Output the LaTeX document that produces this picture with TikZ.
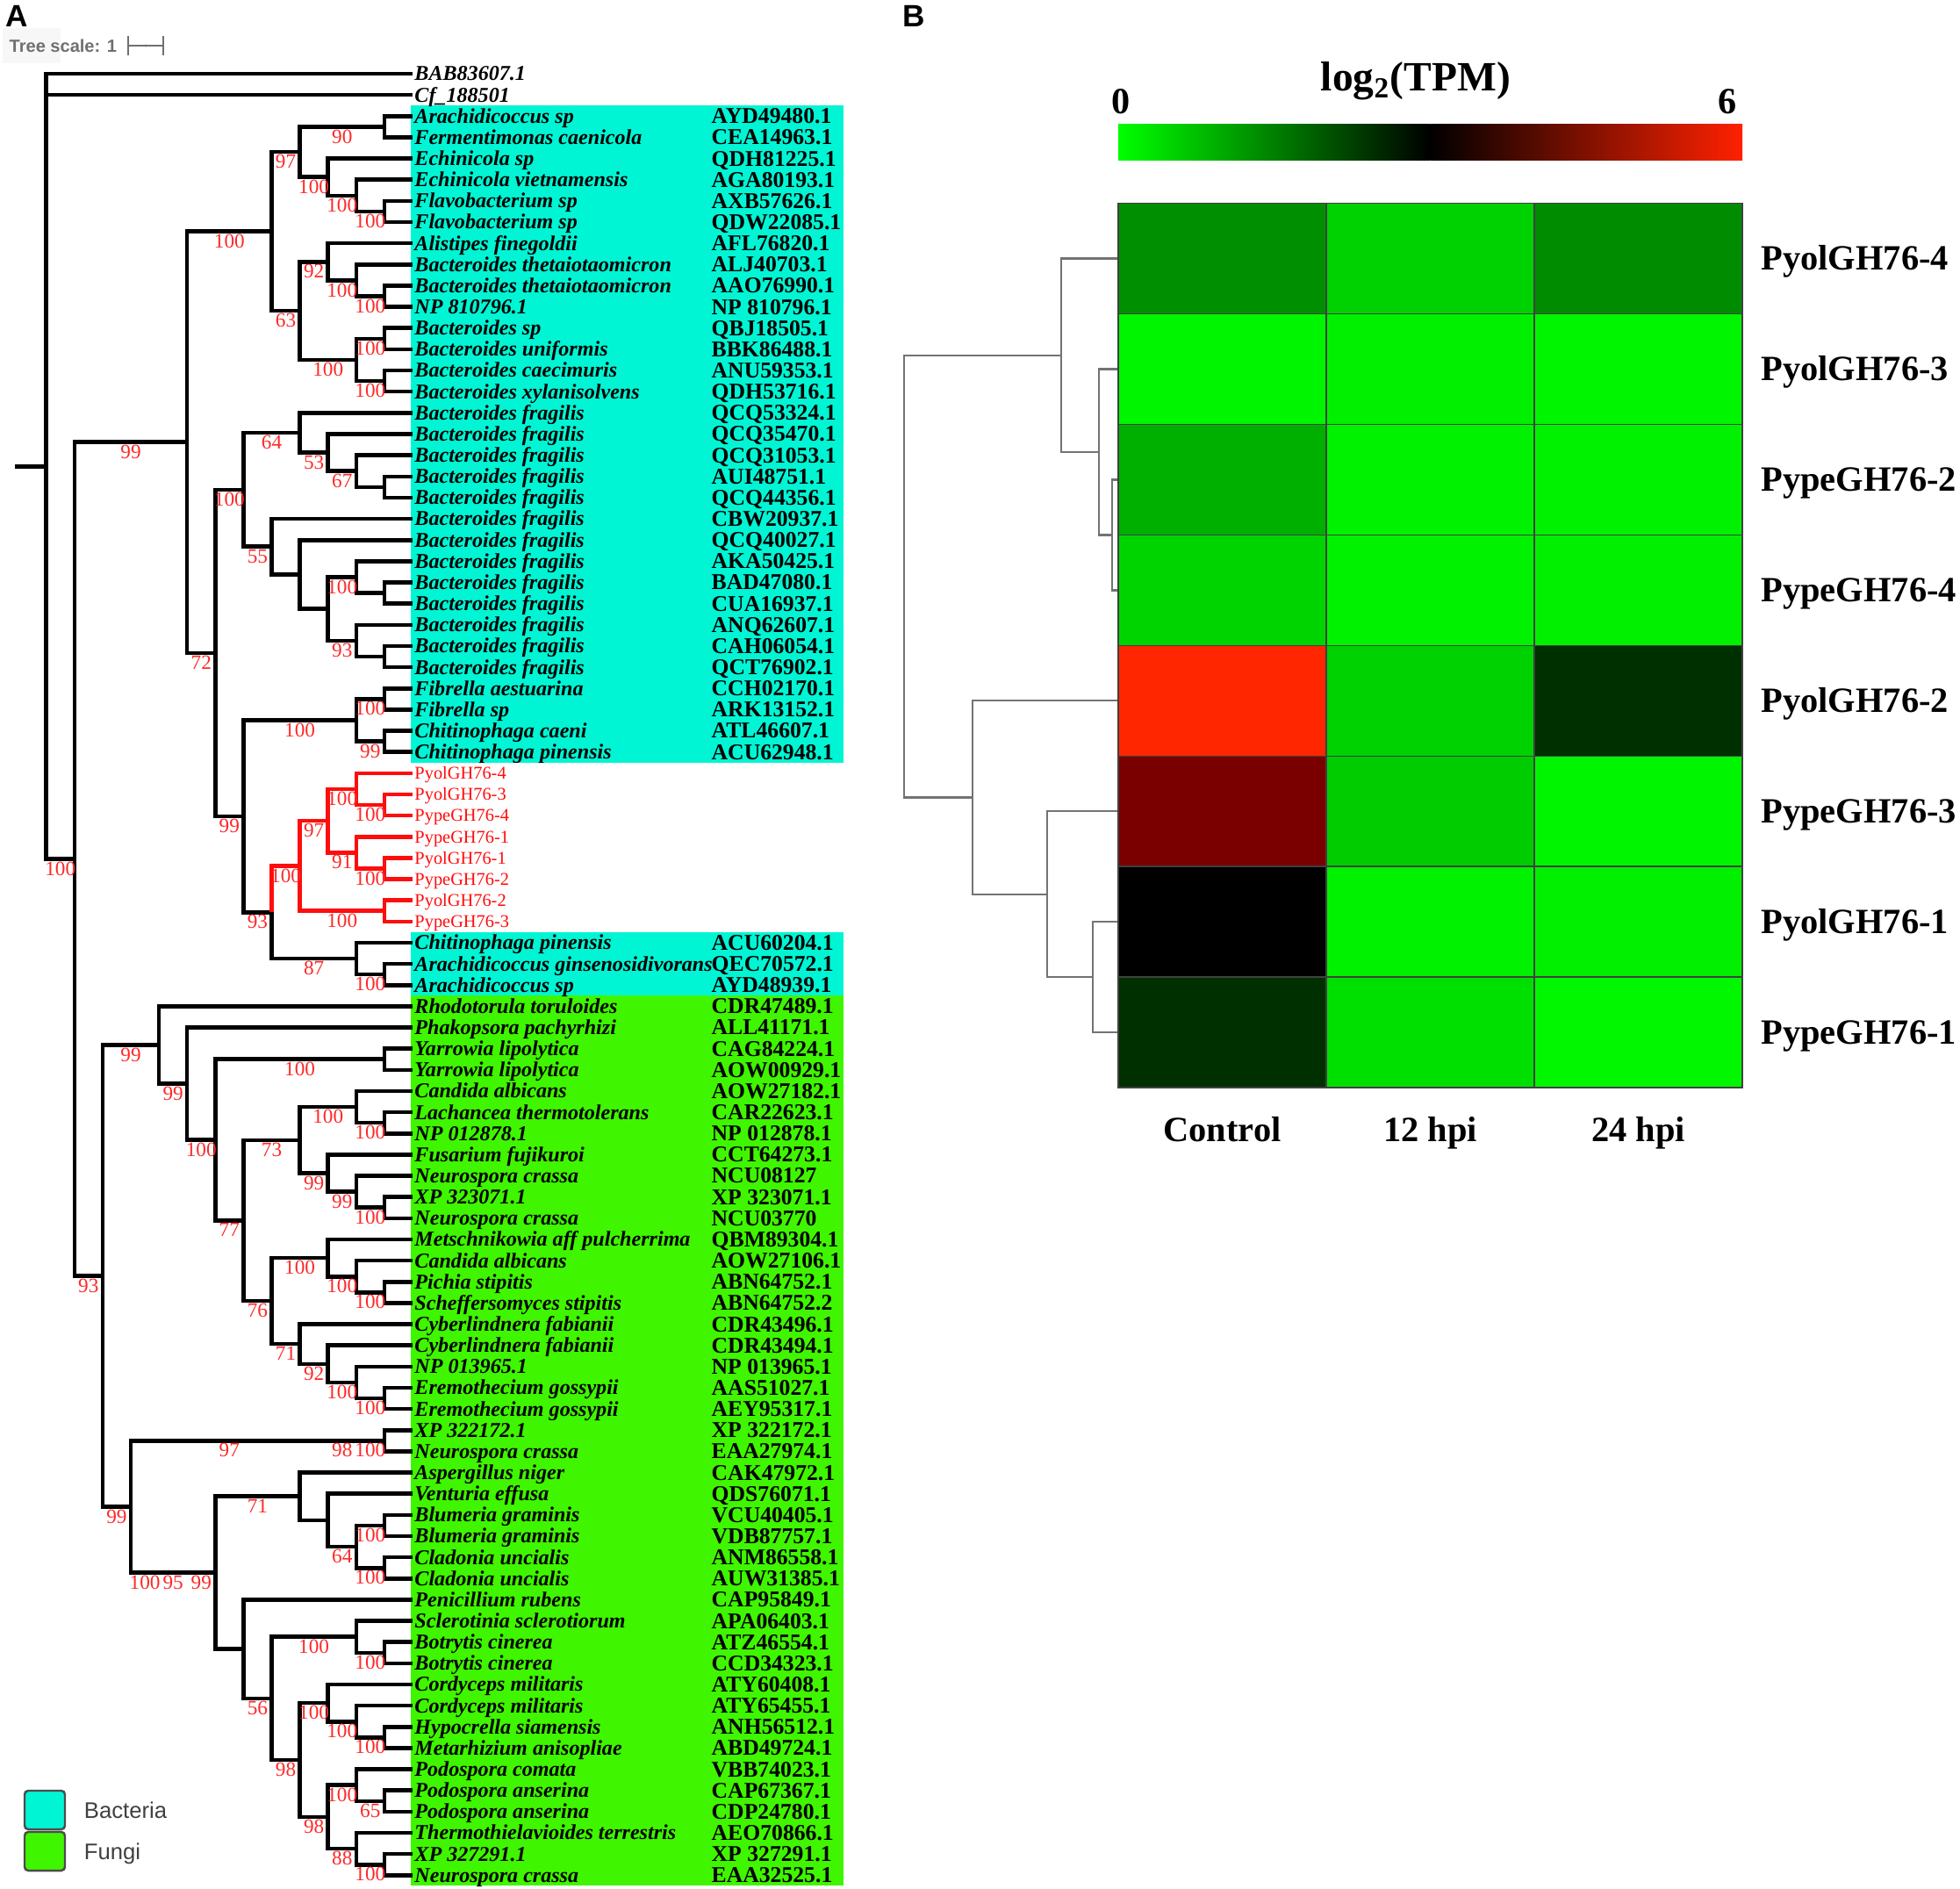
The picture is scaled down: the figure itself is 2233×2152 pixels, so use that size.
\documentclass[tikz,border=0pt]{standalone}
\usepackage{fontspec}
\setmainfont{Liberation Serif}
\newfontfamily\sanslabel{Liberation Sans}
\usetikzlibrary{calc,positioning}

\definecolor{bactcyan}{RGB}{0,245,212}
\definecolor{fungigreen}{RGB}{64,245,0}
\definecolor{bootred}{RGB}{255,40,40}
\definecolor{ghred}{RGB}{255,12,12}
\definecolor{scalegray}{RGB}{112,112,112}

\newcommand\leaffont{\fontsize{6.85pt}{7pt}\selectfont\bfseries\itshape}
\newcommand\accfont{\fontsize{7.3pt}{8pt}\selectfont\bfseries}
\newcommand\genefont{\fontsize{5.8pt}{6pt}\selectfont}
\newcommand\bootfont{\fontsize{6.6pt}{7pt}\selectfont}
\newcommand\legfont{\sanslabel\fontsize{7.3pt}{8pt}\selectfont}
\newcommand\treescalefont{\sanslabel\bfseries\fontsize{5.7pt}{6pt}\selectfont}
\newcommand\panelfont{\sanslabel\bfseries\fontsize{10pt}{12pt}\selectfont}
\newcommand\rowfont{\bfseries\fontsize{11.5pt}{13pt}\selectfont}
\newcommand\cbarfont{\bfseries\fontsize{12pt}{14pt}\selectfont}
\newcommand\cbtitlefont{\bfseries\fontsize{13.5pt}{15pt}\selectfont}

% tree edges: parent/child/bootstrap
\newcommand\blackedges{root/t1/, root/t2/, root/Nin/100,
  Nin/X/99, Nin/FF/93, X/Btop/100, X/Y/72,
  Btop/A1/97, Btop/A2/63,
  A1/G1/90, A1/E/100, G1/t3/, G1/t4/,
  E/t5/, E/F/100, F/t6/, F/G/100, G/t7/, G/t8/,
  A2/H/92, A2/I/100, H/t9/, H/J/100, J/t10/, J/K/100, K/t11/, K/t12/,
  I/L/100, I/M/100, L/t13/, L/t14/, M/t15/, M/t16/,
  Y/Z1/100, Y/Z2/99,
  Z1/P/64, Z1/Q/55, P/t17/, P/R/53, R/t18/, R/S/67, S/t19/, S/T/, T/t20/, T/t21/,
  Q/t22/, Q/U/, U/t23/, U/V/, V/W/100, V/X2/93, W/t24/, W/W2/, W2/t25/, W2/t26/,
  X2/t27/, X2/X2a/, X2a/t28/, X2a/t29/,
  Z2/AA/100, Z2/BB/93, AA/AAa/100, AA/AAb/99, AAa/t30/, AAa/t31/, AAb/t32/, AAb/t33/,
  BB/EE/87, EE/t42/, EE/EEa/100, EEa/t43/, EEa/t44/,
  FF/GG/99, FF/HH/99,
  GG/t45/, GG/II/99, II/t46/, II/JJ/100, JJ/KK/100, JJ/LL/77, KK/t47/, KK/t48/,
  LL/MM/73, LL/NN/76,
  MM/OO/100, MM/PP/99, OO/t49/, OO/OOa/100, OOa/t50/, OOa/t51/,
  PP/t52/, PP/QQ/99, QQ/t53/, QQ/QQa/100, QQa/t54/, QQa/t55/,
  NN/RR/100, NN/SS/71, RR/t56/, RR/TT/100, TT/t57/, TT/TTa/100, TTa/t58/, TTa/t59/,
  SS/t60/, SS/UU/92, UU/t61/, UU/VV/100, VV/t62/, VV/VVa/100, VVa/t63/, VVa/t64/,
  HH/U1/97, U1/U2/98, U2/P65/100, P65/t65/, P65/t66/,
  HH/V1/100, V1/V2/95, V2/WW/99,
  WW/XX/71, WW/YY/,
  XX/t67/, XX/ZZ/, ZZ/t68/, ZZ/A3/64, A3/A3a/100, A3/A3b/100,
  A3a/t69/, A3a/t70/, A3b/t71/, A3b/t72/,
  YY/t73/, YY/B3/56, B3/C3/100, B3/D3/98, C3/t74/, C3/C3a/100, C3a/t75/, C3a/t76/,
  D3/E3/100, D3/F3/98, E3/t77/, E3/G3/100, G3/t78/, G3/G3a/100, G3a/t79/, G3a/t80/,
  F3/H3/100, F3/I3/88, H3/t81/, H3/H3a/65, H3a/t82/, H3a/t83/,
  I3/t84/, I3/I3a/100, I3a/t85/, I3a/t86/}
\newcommand\rededges{BB/r7/100, r7/r5/97, r7/r6/100, r5/r2/100, r5/r4/91,
  r2/t34/, r2/r1/100, r1/t35/, r1/t36/, r4/t37/, r4/r3/100, r3/t38/, r3/t39/,
  r6/t40/, r6/t41/}

\begin{document}
\begin{tikzpicture}[
	x=0.01cm, y=-0.01cm,
	every node/.style={inner sep=0pt},
	branch/.style={line width=1.3pt},
	boot/.style={
		anchor=north,
		yshift=-0.7pt,
		text=bootred,
		font=\bootfont,
	},
	leaf/.style={
		anchor=west,
		xshift=0.5pt,
		text height=4.5pt,
		text depth=0pt,
		font=\leaffont,
	},
	acc/.style={
		anchor=west,
		text height=4.8pt,
		text depth=0pt,
		font=\accfont,
	},
	gene/.style={
		anchor=west,
		xshift=0.5pt,
		text height=3.85pt,
		text depth=0pt,
		text=ghred,
		font=\genefont,
	},
	legbox/.style={
		draw=black!70,
		line width=0.7pt,
		rounded corners=1.2pt,
		minimum width=0.46cm,
		minimum height=0.44cm,
	},
	legtext/.style={
		text height=5.3pt,
		text depth=0pt,
		text=black!75,
		font=\legfont,
	},
	cell/.style={
		draw=black!75,
		line width=0.4pt,
		minimum width=2.37cm,
		minimum height=1.2585cm,
	},
	rowlab/.style={
		text height=7.6pt,
		text depth=0pt,
		font=\rowfont,
	},
	collab/.style={font=\rowfont},
	dendro/.style={draw=black!55, line width=0.65pt},
	panel/.style={font=\panelfont},
]
	\useasboundingbox (0,0) rectangle (2233,2152);

	% ---- panel A ----
	\node (labA) [panel] at (19,18) {A};
	\fill[black!3] (3,32) rectangle (69,72);
	\node (tscale) [anchor=west, text=scalegray, font=\treescalefont] at (10,52)
		{Tree scale: 1};
	\coordinate (sbarL) at (145,52);
	\coordinate (sbarR) at (187,52);
	\draw[scalegray, line width=0.5pt, |-|] (sbarL) -- (sbarR);
	\fill[scalegray] ($(sbarL)!.5!(sbarR)$) circle (0.45pt);

	\begin{scope}[yshift=-0.5987cm, y=-0.2413cm]
		% clade shading
		\fill[bactcyan] (468,2.5) rectangle (961,33.5);
		\fill[bactcyan] (468,41.5) rectangle (961,44.5);
		\fill[fungigreen] (468,44.5) rectangle (961,86.5);

		% inner nodes: name/height/row
		\foreach \n/\h/\i in {root/13/19.5256, Nin/12/38.0513, X/8/18.3828, FF/11/57.7197,
			Btop/5/8.4375, Y/7/28.328125, A1/4/4.6875, A2/4/12.1875,
			G1/1/3.5, E/3/5.875, F/2/6.75, G/1/7.5,
			H/3/9.875, J/2/10.75, K/1/11.5, I/2/14.5, L/1/13.5, M/1/15.5,
			Z1/6/20.625, Z2/6/36.03125,
			P/4/17.9375, R/3/18.875, S/2/19.75, T/1/20.5,
			Q/5/23.3125, U/4/24.625, V/3/26.25, W/2/24.75, W2/1/25.5, X2/2/27.75, X2a/1/28.5,
			AA/2/31.5, AAa/1/30.5, AAb/1/32.5,
			BB/5/40.5625, EE/2/42.75, EEa/1/43.5,
			r7/4/38.375, r5/3/36.25, r2/2/34.75, r1/1/35.5, r4/2/37.75, r3/1/38.5, r6/1/40.5,
			GG/9/46.8262, II/8/48.6523, JJ/7/51.3047, KK/1/47.5, LL/6/55.1094,
			MM/4/51.3125, OO/2/49.75, OOa/1/50.5, PP/3/52.875, QQ/2/53.75, QQa/1/54.5,
			NN/5/58.9063, RR/3/56.875, TT/2/57.75, TTa/1/58.5,
			SS/4/60.9375, UU/3/61.875, VV/2/62.75, VVa/1/63.5,
			HH/10/68.6133, U1/3/65.5, U2/2/65.5, P65/1/65.5,
			V1/9/71.7266, V2/8/71.7266, WW/7/71.7266,
			XX/4/68.125, ZZ/3/69.25, A3/2/70.5, A3a/1/69.5, A3b/1/71.5,
			YY/6/75.3281, B3/5/77.6563, C3/2/74.75, C3a/1/75.5,
			D3/4/80.5625, E3/3/77.875, G3/2/78.75, G3a/1/79.5,
			F3/3/83.25, H3/2/81.75, H3a/1/82.5, I3/2/84.75, I3a/1/85.5}
			\coordinate (\n) at ({470-32.1*\h},\i);
		\coordinate (stub) at (17,19.5256);
		\foreach \i in {1,...,86}
			\coordinate (t\i) at (470,\i);

		% leaves
		\node (n1) [leaf] at (t1) {BAB83607.1};
		\node (n2) [leaf] at (t2) {Cf\_188501};
		\foreach \i/\nm/\acc in {3/Arachidicoccus sp/AYD49480.1,
			4/Fermentimonas caenicola/CEA14963.1,
			5/Echinicola sp/QDH81225.1,
			6/Echinicola vietnamensis/AGA80193.1,
			7/Flavobacterium sp/AXB57626.1,
			8/Flavobacterium sp/QDW22085.1,
			9/Alistipes finegoldii/AFL76820.1,
			10/Bacteroides thetaiotaomicron/ALJ40703.1,
			11/Bacteroides thetaiotaomicron/AAO76990.1,
			12/NP 810796.1/NP 810796.1,
			13/Bacteroides sp/QBJ18505.1,
			14/Bacteroides uniformis/BBK86488.1,
			15/Bacteroides caecimuris/ANU59353.1,
			16/Bacteroides xylanisolvens/QDH53716.1,
			17/Bacteroides fragilis/QCQ53324.1,
			18/Bacteroides fragilis/QCQ35470.1,
			19/Bacteroides fragilis/QCQ31053.1,
			20/Bacteroides fragilis/AUI48751.1,
			21/Bacteroides fragilis/QCQ44356.1,
			22/Bacteroides fragilis/CBW20937.1,
			23/Bacteroides fragilis/QCQ40027.1,
			24/Bacteroides fragilis/AKA50425.1,
			25/Bacteroides fragilis/BAD47080.1,
			26/Bacteroides fragilis/CUA16937.1,
			27/Bacteroides fragilis/ANQ62607.1,
			28/Bacteroides fragilis/CAH06054.1,
			29/Bacteroides fragilis/QCT76902.1,
			30/Fibrella aestuarina/CCH02170.1,
			31/Fibrella sp/ARK13152.1,
			32/Chitinophaga caeni/ATL46607.1,
			33/Chitinophaga pinensis/ACU62948.1,
			42/Chitinophaga pinensis/ACU60204.1,
			43/Arachidicoccus ginsenosidivorans/QEC70572.1,
			44/Arachidicoccus sp/AYD48939.1,
			45/Rhodotorula toruloides/CDR47489.1,
			46/Phakopsora pachyrhizi/ALL41171.1,
			47/Yarrowia lipolytica/CAG84224.1,
			48/Yarrowia lipolytica/AOW00929.1,
			49/Candida albicans/AOW27182.1,
			50/Lachancea thermotolerans/CAR22623.1,
			51/NP 012878.1/NP 012878.1,
			52/Fusarium fujikuroi/CCT64273.1,
			53/Neurospora crassa/NCU08127,
			54/XP 323071.1/XP 323071.1,
			55/Neurospora crassa/NCU03770,
			56/Metschnikowia aff pulcherrima/QBM89304.1,
			57/Candida albicans/AOW27106.1,
			58/Pichia stipitis/ABN64752.1,
			59/Scheffersomyces stipitis/ABN64752.2,
			60/Cyberlindnera fabianii/CDR43496.1,
			61/Cyberlindnera fabianii/CDR43494.1,
			62/NP 013965.1/NP 013965.1,
			63/Eremothecium gossypii/AAS51027.1,
			64/Eremothecium gossypii/AEY95317.1,
			65/XP 322172.1/XP 322172.1,
			66/Neurospora crassa/EAA27974.1,
			67/Aspergillus niger/CAK47972.1,
			68/Venturia effusa/QDS76071.1,
			69/Blumeria graminis/VCU40405.1,
			70/Blumeria graminis/VDB87757.1,
			71/Cladonia uncialis/ANM86558.1,
			72/Cladonia uncialis/AUW31385.1,
			73/Penicillium rubens/CAP95849.1,
			74/Sclerotinia sclerotiorum/APA06403.1,
			75/Botrytis cinerea/ATZ46554.1,
			76/Botrytis cinerea/CCD34323.1,
			77/Cordyceps militaris/ATY60408.1,
			78/Cordyceps militaris/ATY65455.1,
			79/Hypocrella siamensis/ANH56512.1,
			80/Metarhizium anisopliae/ABD49724.1,
			81/Podospora comata/VBB74023.1,
			82/Podospora anserina/CAP67367.1,
			83/Podospora anserina/CDP24780.1,
			84/Thermothielavioides terrestris/AEO70866.1,
			85/XP 327291.1/XP 327291.1,
			86/Neurospora crassa/EAA32525.1}
		{
			\node (n\i) [leaf] at (t\i) {\nm};
			\node (a\i) [acc] at (810,\i) {\acc};
		}
		\foreach \i/\nm in {34/PyolGH76-4, 35/PyolGH76-3, 36/PypeGH76-4, 37/PypeGH76-1,
			38/PyolGH76-1, 39/PypeGH76-2, 40/PyolGH76-2, 41/PypeGH76-3}
			\node (n\i) [gene] at (t\i) {\nm};

		% branches
		\draw[branch] (stub) -- (root);
		\foreach \p/\c/\v in \blackedges
			\draw[branch] (\p) |- (\c);
		\foreach \p/\c/\v in \rededges
			\draw[branch, ghred] (\p) |- (\c);
		% bootstrap values
		\foreach \p/\c/\v in \blackedges
			\path (\p) |- node[boot, pos=.75] {\v} (\c);
		\foreach \p/\c/\v in \rededges
			\path (\p) |- node[boot, pos=.75] {\v} (\c);
	\end{scope}

	% legend
	\node (legbact) [legbox, fill=bactcyan] at (51,2062) {};
	\node (legfungi) [legbox, fill=fungigreen] at (51,2109) {};
	\node (legbacttxt) [legtext, right=0.2cm of legbact] {Bacteria};
	\node (legfungitxt) [legtext, right=0.2cm of legfungi] {Fungi};

	% ---- panel B ----
	\node (labB) [panel] at (1041,18) {B};
	\node (cbtitle) [anchor=base, font=\cbtitlefont] at (1613,104)
		{log\textsubscript{2}(TPM)};
	\node (cbmin) [anchor=base, font=\cbarfont] at (1277,130) {0};
	\node (cbmax) [anchor=base, font=\cbarfont] at (1968,130) {6};
	\shade[left color=green, right color=black] (1274,142) rectangle (1629.5,183);
	\shade[left color=black, right color=red!87!yellow] (1629.5,142) rectangle (1985,183);

	\begin{scope}[yshift=-1.68575cm, y=-1.2585cm]
		\foreach \r/\nm/\ca/\cb/\cc in {
			1/PyolGH76-4/green!56!black/green!82!black/green!55!black,
			2/PyolGH76-3/green!96!black/green!94!black/green!96!black,
			3/PypeGH76-2/green!69!black/green!95!black/green!95!black,
			4/PypeGH76-4/green!83!black/green!95!black/green!94!black,
			5/PyolGH76-2/red!85!yellow/green!82!black/green!19!black,
			6/PypeGH76-3/red!48!black/green!80!black/green!96!black,
			7/PyolGH76-1/black/green!95!black/green!94!black,
			8/PypeGH76-1/green!19!black/green!88!black/green!97!black}
		{
			\node (c\r-1) [cell, fill=\ca] at (1392.5,\r) {};
			\node (c\r-2) [cell, fill=\cb] at (1629.5,\r) {};
			\node (c\r-3) [cell, fill=\cc] at (1866.5,\r) {};
			\node (row\r) [rowlab, right=0.2cm of c\r-3] {\nm};
		}
		\node (colctrl) [collab, below=0.32cm of c8-1] {Control};
		\node (col12) [collab, below=0.32cm of c8-2] {12 hpi};
		\node (col24) [collab, below=0.32cm of c8-3] {24 hpi};

		% row dendrogram
		\coordinate (d0) at (1030,3.875);
		\coordinate (d1) at (1209.3,1.875);
		\coordinate (d2) at (1252.3,2.75);
		\coordinate (d3) at (1267.3,3.5);
		\coordinate (d4) at (1107.7,5.875);
		\coordinate (d5) at (1193.3,6.75);
		\coordinate (d6) at (1245.3,7.5);
		\foreach \p/\c in {d0/d1, d0/d4, d1/c1-1, d1/d2, d2/c2-1, d2/d3, d3/c3-1, d3/c4-1,
			d4/c5-1, d4/d5, d5/c6-1, d5/d6, d6/c7-1, d6/c8-1}
			\draw[dendro] (\p) |- (\c);
	\end{scope}
\end{tikzpicture}
\end{document}
